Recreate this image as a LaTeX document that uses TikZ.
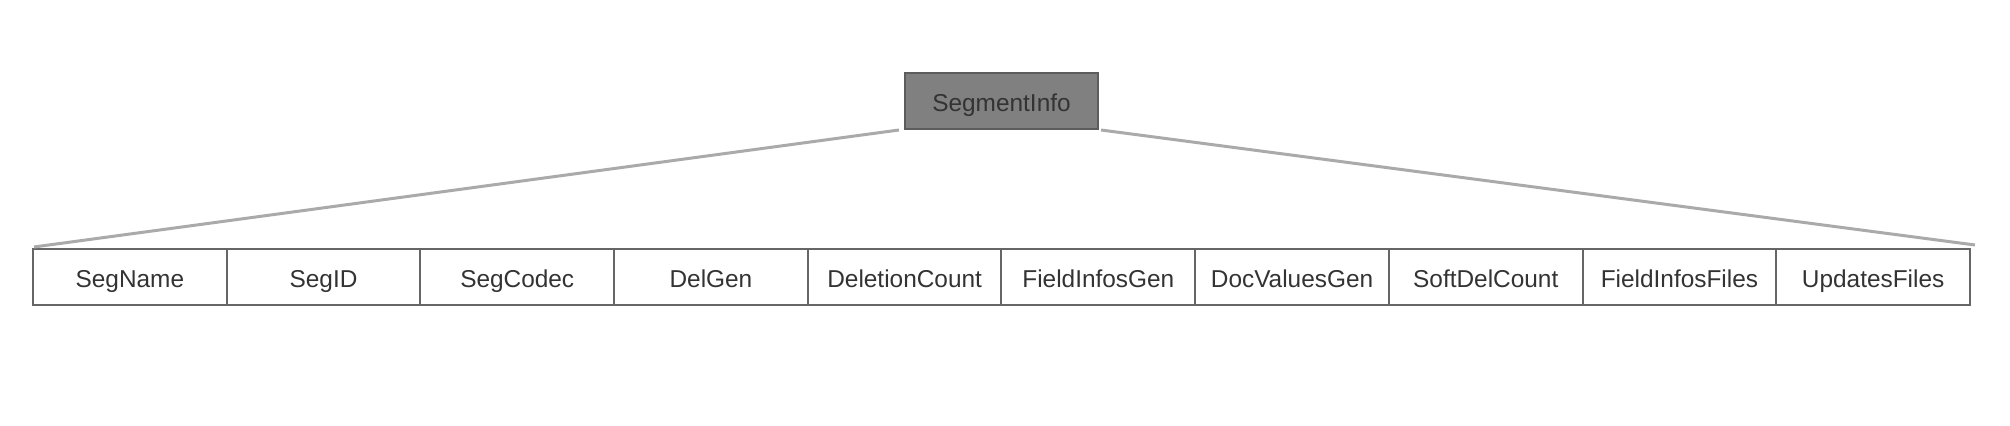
\documentclass[tikz,border=0pt]{standalone}
\usepackage{fontspec}
\setmainfont{Liberation Sans}
\usetikzlibrary{matrix,positioning,calc}
\definecolor{boxline}{HTML}{666666}
\definecolor{linkline}{HTML}{AAAAAA}
\definecolor{infofill}{HTML}{808080}
\definecolor{txt}{HTML}{333333}

\begin{document}
\begin{tikzpicture}[x=0.5pt,y=-0.5pt,
    field/.style={shape=rectangle,draw=boxline,line width=1pt,minimum width=96.85pt,minimum height=28pt,anchor=center,inner sep=0pt,text height=11pt,text depth=0.2pt,text=txt,font=\fontsize{12.2}{14}\selectfont},
    link/.style={draw=linkline,line width=1.5pt}]
    \useasboundingbox (0,0) rectangle (2010,426);
    \node[field,fill=infofill,minimum width=96.5pt,draw=boxline!90!black] (info) at (1001.5,101) {SegmentInfo};
    \matrix (m) [matrix of nodes, row sep=0pt, column sep=-1pt, nodes={field}] at (1001.5,277) {
      SegName & SegID & SegCodec & DelGen & DeletionCount & FieldInfosGen & DocValuesGen & SoftDelCount & FieldInfosFiles & UpdatesFiles \\
    };
    \draw[link] ([xshift=-2.5pt]info.south west) -- ([xshift=1pt,yshift=0.5pt]m-1-1.north west);
    \draw[link] ([xshift=1pt]info.south east) -- ([xshift=2pt,yshift=1.5pt]m-1-10.north east);
  \end{tikzpicture}
\end{document}
